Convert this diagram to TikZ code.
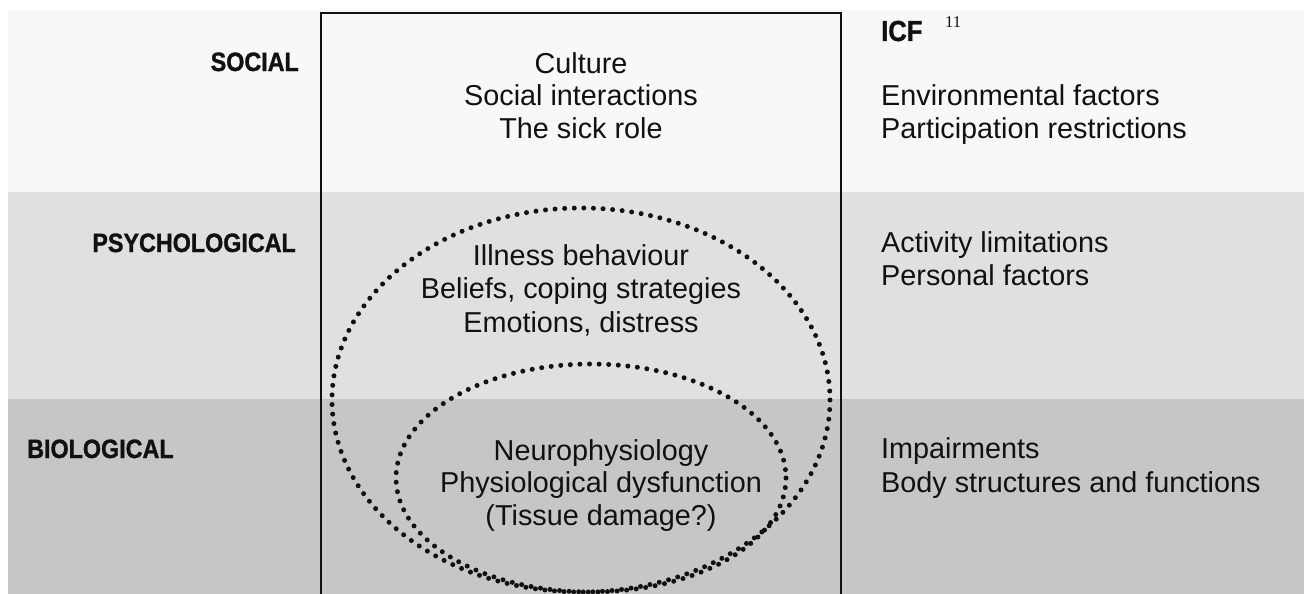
\documentclass[tikz,border=0pt]{standalone}
\usepackage{fontspec}
\setmainfont{Liberation Sans}
\newfontfamily\labfont[BoldFeatures={FakeBold=1.2}]{Liberation Sans}
\newfontfamily\serfont{Liberation Serif}
\definecolor{bandA}{HTML}{F8F8F8}
\definecolor{bandB}{HTML}{E0E0E0}
\definecolor{bandC}{HTML}{C6C6C6}
\definecolor{ink}{HTML}{111111}
\newcommand{\narrow}[1]{\scalebox{0.88}[1]{#1}}
\tikzset{
  txt/.style={font=\fontsize{28.8}{34}\selectfont, inner sep=0pt, text=ink},
  lab/.style={font=\labfont\bfseries\fontsize{26.5}{30}\selectfont, inner sep=0pt, text=ink},
  dots/.style={line width=5pt, line cap=round, dash pattern=on 0pt off 9.6pt, draw=ink},
  frame/.style={line width=2pt, draw=ink},
}
\begin{document}
\begin{tikzpicture}[x=1pt,y=-1pt]
\useasboundingbox (0,0) rectangle (1304,594);
% bands
\fill[bandA] (8,10) rectangle (1304,192);
\fill[bandB] (8,192) rectangle (1304,399);
\fill[bandC] (8,399) rectangle (1304,594);
% central frame
\draw[frame] (321,596) -- (321,12.6) -- (841,12.6) -- (841,596);
% dotted ellipses
\draw[dots] (581,400) ellipse [x radius=249, y radius=192];
\draw[dots] (591,478) ellipse [x radius=195, y radius=114];
% left labels
\node[lab, anchor=base east] (lsocial) at (299,71) {\narrow{SOCIAL}};
\node[lab, anchor=base east] (lpsych) at (296,252) {\narrow{PSYCHOLOGICAL}};
\node[lab, anchor=base west] (lbio) at (27,458) {\narrow{BIOLOGICAL}};
% central texts
\node[txt, anchor=base] (culture) at (581,74) {Culture};
\node[txt, anchor=base] (socint) at (581,106) {Social interactions};
\node[txt, anchor=base] (sick) at (581,138) {The sick role};
\node[txt, anchor=base] (illness) at (581,265) {Illness behaviour};
\node[txt, anchor=base] (beliefs) at (581,298.5) {Beliefs, coping strategies};
\node[txt, anchor=base] (emotions) at (581,332) {Emotions, distress};
\node[txt, anchor=base] (neuro) at (601,460) {Neurophysiology};
\node[txt, anchor=base] (physio) at (601,492.5) {Physiological dysfunction};
\node[txt, anchor=base] (tissue) at (601,525) {(Tissue damage?)};
% right column (ICF)
\node[lab, anchor=base west, font=\labfont\bfseries\fontsize{29}{32}\selectfont] (icf) at (881,41) {\narrow{ICF}};
\node[anchor=base west, inner sep=0pt, text=ink, font=\serfont\fontsize{16.5}{18}\selectfont] (ref) at (945,28) {11};
\node[txt, anchor=base west] (env) at (881,106) {Environmental factors};
\node[txt, anchor=base west] (part) at (881,138) {Participation restrictions};
\node[txt, anchor=base west] (act) at (881,252) {Activity limitations};
\node[txt, anchor=base west] (pers) at (881,285) {Personal factors};
\node[txt, anchor=base west] (imp) at (881,458) {Impairments};
\node[txt, anchor=base west] (body) at (881,492) {Body structures and functions};
\end{tikzpicture}
\end{document}
